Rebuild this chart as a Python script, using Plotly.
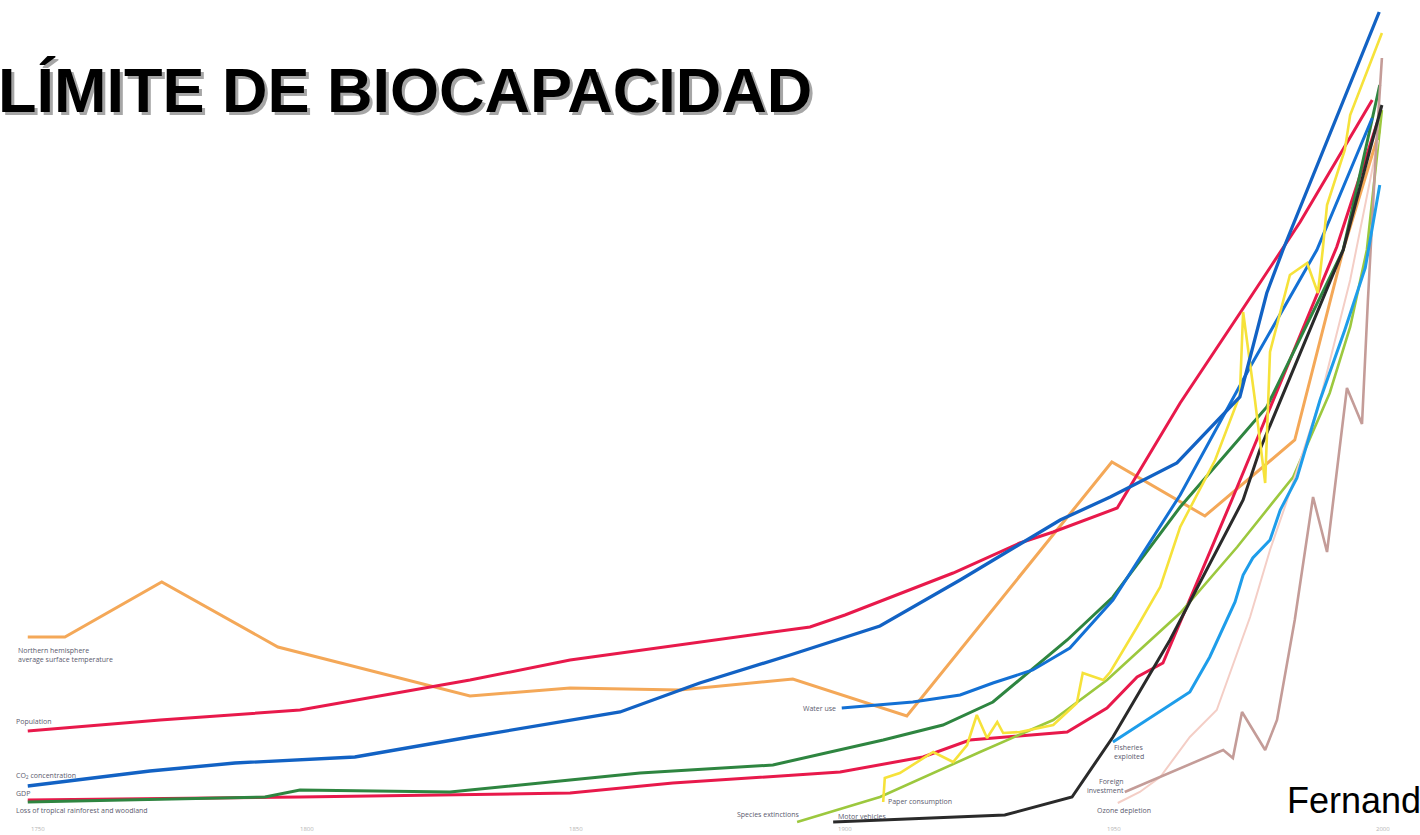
import plotly.graph_objects as go

W, H = 1420, 835

# ---- Data (years, index values; 0 = bottom of chart) ----
temp_years = [1748.1, 1755.0, 1773.0, 1794.6, 1830.3, 1848.9, 1869.3, 1890.3, 1911.5, 1949.6, 1966.9, 1983.6, 1992.6, 1999.4]
temp_vals = [198, 198, 253, 188, 139, 147, 145, 156, 119, 373, 319, 395, 585, 705]

pop_years = [1748.1, 1772.7, 1798.7, 1817.3, 1830.3, 1848.9, 1873.0, 1893.5, 1900.0, 1920.1, 1932.5, 1938.7, 1950.6, 1962.3, 1973.8, 1984.6, 1998.0]
pop_vals = [104, 115, 125, 143, 155, 175, 193, 208, 220, 262, 292, 303, 327, 432, 525, 613, 735]

co2_years = [1748.1, 1770.8, 1786.6, 1808.9, 1830.3, 1858.2, 1873.0, 1889.8, 1906.5, 1921.4, 1940.0, 1949.3, 1961.7, 1973.4, 1978.4, 1981.4, 1999.3]
co2_vals = [49, 64, 72, 78, 98, 123, 152, 180, 209, 255, 315, 338, 372, 438, 542, 585, 823]

gdp_years = [1748.1, 1798.7, 1848.9, 1868.0, 1899.1, 1914.5, 1923.2, 1941.3, 1948.7, 1954.3, 1959.1, 1971.9, 1982.7, 1991.4, 1999.1]
gdp_vals = [35, 38, 42, 52, 63, 78, 95, 103, 127, 158, 172, 335, 475, 588, 715]

forest_years = [1748.1, 1792.2, 1798.7, 1826.6, 1848.9, 1861.9, 1886.6, 1899.1, 1907.1, 1918.2, 1927.5, 1941.3, 1949.8, 1962.3, 1978.4, 1992.6, 1999.4]
forest_vals = [33, 38, 45, 43, 55, 62, 70, 85, 95, 110, 133, 195, 238, 328, 428, 585, 750]

water_years = [1899.4, 1912.6, 1921.4, 1927.5, 1934.9, 1941.8, 1949.8, 1962.3, 1975.3, 1987.7, 1998.0]
water_vals = [127, 133, 140, 152, 165, 187, 235, 340, 468, 585, 717]

fish_years = [1949.8, 1956.1, 1964.1, 1967.8, 1972.5, 1974.0, 1975.8, 1979.0, 1980.9, 1984.0, 1988.3, 1992.9, 1996.7, 1999.4]
fish_vals = [93, 115, 143, 178, 233, 260, 277, 295, 325, 357, 435, 505, 567, 650]

paper_years = [1907.1, 1907.4, 1910.2, 1916.4, 1920.1, 1922.7, 1924.5, 1926.4, 1928.3, 1929.4, 1932.5, 1938.7,
               1943.1, 1944.2, 1948.0, 1949.3, 1954.3, 1958.6, 1962.3, 1968.8, 1973.4, 1974.0, 1976.2, 1978.1,
               1979.0, 1982.7, 1985.9, 1987.9, 1988.8, 1989.6, 1992.9, 1993.9, 1999.8]
paper_vals = [33, 57, 62, 83, 73, 90, 120, 97, 113, 102, 103, 110,
              132, 162, 155, 163, 208, 248, 308, 375, 440, 523, 435, 352,
              483, 560, 572, 542, 585, 630, 685, 720, 802]

species_years = [1891.1, 1906.5, 1925.1, 1938.7, 1948.7, 1962.3, 1972.9, 1983.3, 1990.1, 1993.9, 1997.0, 1999.8]
species_vals = [13, 38, 83, 115, 155, 222, 288, 358, 442, 508, 585, 725]

motor_years = [1897.8, 1929.7, 1942.2, 1949.8, 1960.4, 1974.0, 1977.1, 1992.6, 1999.8]
motor_vals = [13, 20, 38, 98, 195, 335, 385, 585, 730]

foreign_years = [1952.0, 1970.3, 1972.1, 1973.8, 1978.1, 1980.3, 1983.6, 1987.0, 1989.6, 1993.3, 1996.1, 1997.2, 1998.7, 1999.8]
foreign_vals = [43, 85, 77, 123, 85, 115, 215, 338, 283, 447, 411, 535, 685, 777]

ozone_years = [1950.7, 1954.8, 1958.6, 1964.1, 1969.1, 1975.3, 1979.0, 1982.2, 1988.3, 1993.9, 1999.1]
ozone_vals = [32, 43, 58, 98, 125, 218, 285, 335, 435, 555, 695]

tick_years = [1750, 1800, 1850, 1900, 1950, 2000]
tick_labels = ["1750", "1800", "1850", "1900", "1950", "2000"]

series = [
    ("Northern hemisphere average surface temperature", temp_years, temp_vals, "#F4A858", 3),
    ("Population", pop_years, pop_vals, "#E8194B", 3),
    ("GDP", gdp_years, gdp_vals, "#E8194B", 3),
    ("Loss of tropical rainforest and woodland", forest_years, forest_vals, "#2E8540", 3),
    ("Water use", water_years, water_vals, "#1370D4", 3),
    ("Species extinctions", species_years, species_vals, "#9CC83E", 2.6),
    ("Ozone depletion", ozone_years, ozone_vals, "#F4CEC6", 2),
    ("Foreign investment", foreign_years, foreign_vals, "#C49C98", 2.6),
    ("Fisheries exploited", fish_years, fish_vals, "#1E9DEA", 3),
    ("Motor vehicles", motor_years, motor_vals, "#2A2A2A", 3),
    ("Paper consumption", paper_years, paper_vals, "#F6E23A", 2.6),
    ("CO2 concentration", co2_years, co2_vals, "#1262C4", 3.3),
]

fig = go.Figure()
for name, xs, ys, color, w in series:
    fig.add_trace(go.Scatter(x=xs, y=ys, mode="lines", name=name,
                             line=dict(color=color, width=w), hoverinfo="skip"))

def px(x):
    return x / W

def py(y):
    return 1 - y / H

ann = []
label_font = dict(family="Open Sans, Liberation Sans, sans-serif", size=7, color="#5a5a6e")

def lab(text, x, y, xanchor="left"):
    ann.append(dict(text=text, x=px(x), y=py(y), xref="paper", yref="paper",
                    xanchor=xanchor, yanchor="middle", showarrow=False, align=xanchor,
                    font=label_font))

lab("Northern hemisphere<br>average surface temperature", 16, 655)
lab("Population", 14, 721)
lab("CO<sub>2</sub> concentration", 14, 775)
lab("GDP", 14, 793)
lab("Loss of tropical rainforest and woodland", 14, 810)
lab("Water use", 838, 708, "right")
lab("Paper consumption", 886, 801)
lab("Species extinctions", 735, 814)
lab("Motor vehicles", 836, 816)
lab("Fisheries<br>exploited", 1112, 752)
lab("Foreign<br>investment", 1126, 786, "right")
lab("Ozone depletion", 1095, 810)

for ty, tl in zip(tick_years, tick_labels):
    ann.append(dict(text=tl, x=ty, y=py(829), xref="x", yref="paper", xanchor="center",
                    yanchor="middle", showarrow=False,
                    font=dict(family="Open Sans, Liberation Sans, sans-serif", size=6, color="#b4b4b4")))

title = "LÍMITE DE BIOCAPACIDAD"
ann.append(dict(text=title, x=px(-1), y=py(93), xref="paper", yref="paper", xanchor="left",
                yanchor="middle", showarrow=False,
                font=dict(family="Liberation Sans, Arial, sans-serif", size=63, color="#a6a6a6", weight="bold")))
ann.append(dict(text=title, x=px(-4), y=py(90), xref="paper", yref="paper", xanchor="left",
                yanchor="middle", showarrow=False,
                font=dict(family="Liberation Sans, Arial, sans-serif", size=63, color="#000000", weight="bold")))
ann.append(dict(text="Fernand", x=px(1285), y=py(800), xref="paper", yref="paper", xanchor="left",
                yanchor="middle", showarrow=False,
                font=dict(family="Liberation Sans, Arial, sans-serif", size=36, color="#000000")))

fig.update_layout(
    width=W, height=H, autosize=False,
    margin=dict(l=0, r=0, t=0, b=0),
    paper_bgcolor="white", plot_bgcolor="white",
    showlegend=False,
    xaxis=dict(range=[1742.94, 2006.88], visible=False, fixedrange=True),
    yaxis=dict(range=[0, 835], visible=False, fixedrange=True),
    annotations=ann,
)

fig.write_html("out.html", config={"displayModeBar": False},
               post_script="document.body.style.margin='0';document.body.style.overflow='hidden';")
